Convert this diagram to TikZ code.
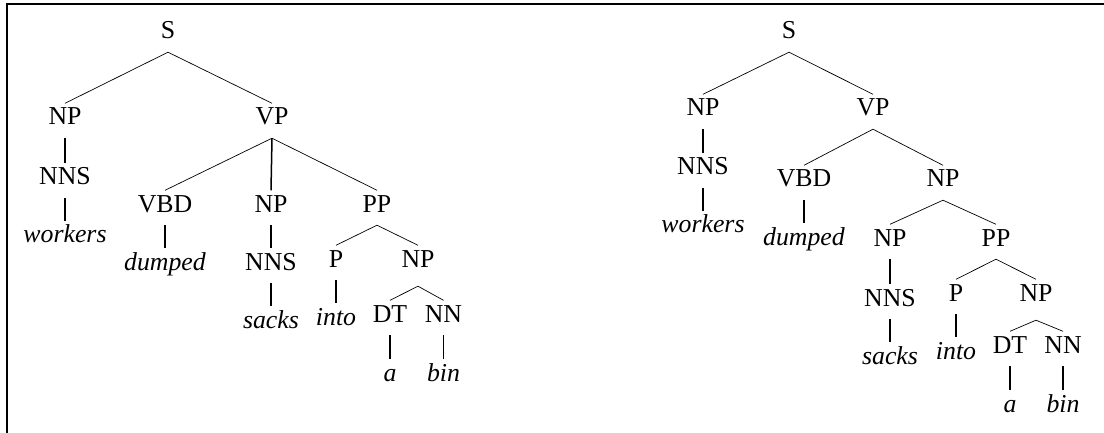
\documentclass[tikz,border=0pt]{standalone}
\usepackage{fontspec}
\setmainfont{Liberation Serif}
\begin{document}
\begin{tikzpicture}[x=1pt,y=-1pt,
  lbl/.style={anchor=base, inner xsep=0pt, inner ysep=4.5pt, text height=17pt, text depth=8.5pt, font=\fontsize{25.8}{28}\selectfont},
  word/.style={lbl, font=\fontsize{25.8}{28}\selectfont\itshape},
  branch/.style={line width=0.7pt},
  stem/.style={line width=1.5pt},
  framel/.style={line width=2.3pt}]
\useasboundingbox (0,0) rectangle (1104,433);
\draw[framel] (7,433) -- (7,4) -- (1104,4);

% ---------- left tree ----------
\node[lbl] (lS) at (168,39) {S};
\node[lbl] (lNP) at (65,125) {NP};
\node[lbl] (lVP) at (272,125) {VP};
\node[lbl] (lNNS) at (65,185) {NNS};
\node[word] (lworkers) at (65,243) {workers};
\node[lbl] (lVBD) at (165,212) {VBD};
\node[lbl] (lNPb) at (271,212) {NP};
\node[lbl] (lPP) at (377,212) {PP};
\node[word] (ldumped) at (165,270) {dumped};
\node[lbl] (lNNSb) at (271,270) {NNS};
\node[word] (lsacks) at (271,328) {sacks};
\node[lbl] (lP) at (336,267) {P};
\node[lbl] (lNPc) at (418,267) {NP};
\node[word] (linto) at (336,325) {into};
\node[lbl] (lDT) at (390,322) {DT};
\node[lbl] (lNN) at (443.5,322) {NN};
\node[word] (la) at (390,381) {a};
\node[word] (lbin) at (443.5,381) {bin};

\draw[branch] (lS.south) -- (lNP.north);
\draw[branch] (lS.south) -- (lVP.north);
\draw[stem] (lNP.south) -- (lNNS.north);
\draw[stem] (lNNS.south) -- (lworkers.north);
\draw[branch] (lVP.south) -- (lVBD.north);
\draw[stem] (lVP.south) -- (lNPb.north);
\draw[branch] (lVP.south) -- (lPP.north);
\draw[stem] (lVBD.south) -- (ldumped.north);
\draw[stem] (lNPb.south) -- (lNNSb.north);
\draw[stem] (lNNSb.south) -- (lsacks.north);
\draw[branch] (lPP.south) -- (lP.north);
\draw[branch] (lPP.south) -- (lNPc.north);
\draw[stem] (lP.south) -- (linto.north);
\draw[branch] ([yshift=-6pt]lNPc.south) -- (lDT.north);
\draw[branch] ([yshift=-6pt]lNPc.south) -- (lNN.north);
\draw[stem] (lDT.south) -- (la.north);
\draw[stem] (lNN.south) -- (lbin.north);

% ---------- right tree ----------
\node[lbl] (rS) at (789,39) {S};
\node[lbl] (rNP) at (703,116) {NP};
\node[lbl] (rVP) at (873,116) {VP};
\node[lbl] (rNNS) at (703,175) {NNS};
\node[word] (rworkers) at (703,233) {workers};
\node[lbl] (rVBD) at (804,187) {VBD};
\node[lbl] (rNPb) at (943,187) {NP};
\node[word] (rdumped) at (804,245) {dumped};
\node[lbl] (rNPc) at (890,246) {NP};
\node[lbl] (rPP) at (996,246) {PP};
\node[lbl] (rNNSb) at (890,306) {NNS};
\node[word] (rsacks) at (890,364) {sacks};
\node[lbl] (rP) at (956,301) {P};
\node[lbl] (rNPd) at (1036,301) {NP};
\node[word] (rinto) at (956,359) {into};
\node[lbl] (rDT) at (1010,353) {DT};
\node[lbl] (rNN) at (1063,353) {NN};
\node[word] (ra) at (1010,412) {a};
\node[word] (rbin) at (1063,412) {bin};

\draw[branch] (rS.south) -- (rNP.north);
\draw[branch] (rS.south) -- (rVP.north);
\draw[stem] (rNP.south) -- (rNNS.north);
\draw[stem] (rNNS.south) -- (rworkers.north);
\draw[branch] (rVP.south) -- (rVBD.north);
\draw[branch] (rVP.south) -- (rNPb.north);
\draw[stem] (rVBD.south) -- (rdumped.north);
\draw[branch] (rNPb.south) -- (rNPc.north);
\draw[branch] (rNPb.south) -- (rPP.north);
\draw[stem] (rNPc.south) -- (rNNSb.north);
\draw[stem] (rNNSb.south) -- (rsacks.north);
\draw[branch] (rPP.south) -- (rP.north);
\draw[branch] (rPP.south) -- (rNPd.north);
\draw[stem] (rP.south) -- (rinto.north);
\draw[branch] ([yshift=-6pt]rNPd.south) -- (rDT.north);
\draw[branch] ([yshift=-6pt]rNPd.south) -- (rNN.north);
\draw[stem] (rDT.south) -- (ra.north);
\draw[stem] (rNN.south) -- (rbin.north);
\end{tikzpicture}
\end{document}
